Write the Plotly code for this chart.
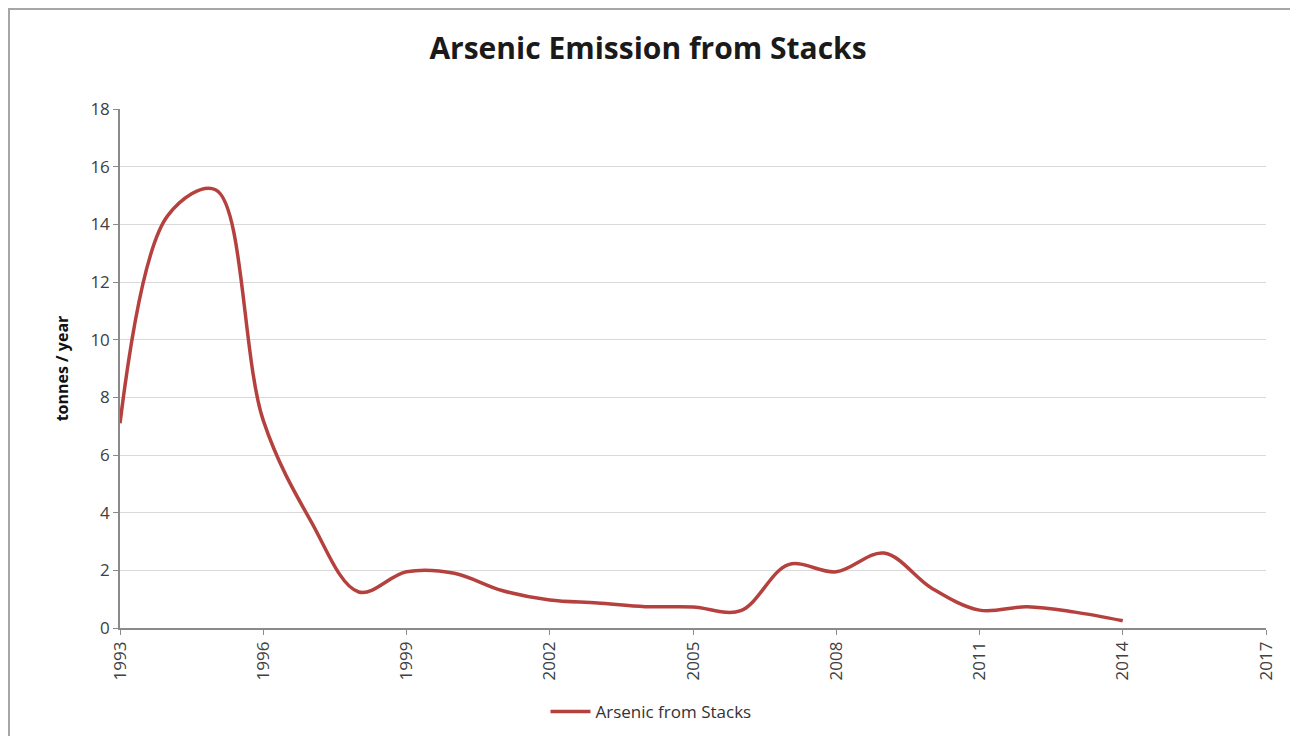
import plotly.graph_objects as go

years = list(range(1993, 2015))
arsenic = [7.1, 14.3, 15.2, 7.2, 3.7, 1.25, 1.95, 1.9, 1.3, 0.97, 0.87, 0.74,
           0.73, 0.6, 2.2, 1.95, 2.6, 1.38, 0.62, 0.74, 0.55, 0.25]
series_name = "Arsenic from Stacks"
title_text = "Arsenic Emission from Stacks"
y_title = "tonnes / year"
x_ticks = list(range(1993, 2018, 3))
y_ticks = list(range(0, 19, 2))

# page body has an 8px margin, so figure coords = page coords - 8
OFF = 8
W, H = 1298, 736
L, R, T, B = 120 - OFF, 40, 109 - OFF, 116
pw, ph = W - L - R, H - T - B

def px_x(p):
    return (p - OFF - L) / pw

def px_y(p):
    return (H - B - (p - OFF)) / ph

fig = go.Figure()
fig.add_trace(go.Scatter(
    x=years, y=arsenic, mode="lines", name=series_name,
    line=dict(color="#B5413E", width=3.5, shape="spline", smoothing=1.0),
))

fig.update_layout(
    width=W, height=H,
    margin=dict(l=L, r=R, t=T, b=B),
    paper_bgcolor="white", plot_bgcolor="white",
    title=dict(text="<b>" + title_text + "</b>", x=(648 - OFF) / W, xref="container", xanchor="center",
               y=1 - (48 - OFF) / H, yref="container", yanchor="middle",
               font=dict(family="Open Sans", size=30, color="#1a1a1a")),
    showlegend=True,
    legend=dict(orientation="h", x=(651 - OFF) / W, xanchor="center", xref="container",
                y=1 - (712 - OFF) / H, yref="container", yanchor="middle",
                font=dict(family="Open Sans", size=17, color="#333333"),
                itemwidth=40),
    font=dict(family="Open Sans", color="#404040"),
)

fig.update_xaxes(
    range=[1993, 2017], tickvals=x_ticks, ticktext=[str(v) for v in x_ticks],
    tickangle=-90, showgrid=False, zeroline=False,
    showline=True, linecolor="#8a8a8a", linewidth=1.5,
    ticks="outside", ticklen=5, tickcolor="#8a8a8a",
    tickfont=dict(family="Open Sans", size=17, color="#404040"),
)
fig.update_yaxes(
    range=[0, 18], tickvals=y_ticks, showgrid=True, gridcolor="#d9d9d9", gridwidth=1,
    zeroline=False, showline=True, linecolor="#8a8a8a", linewidth=1.5,
    ticks="outside", ticklen=5, tickcolor="#8a8a8a",
    tickfont=dict(family="Open Sans", size=17, color="#404040"),
    title=dict(text="<b>" + y_title + "</b>", standoff=18,
               font=dict(family="Open Sans", size=16, color="#111111")),
)

fig.add_shape(type="rect", xref="paper", yref="paper",
              x0=px_x(9), x1=px_x(1291), y0=px_y(H + 20), y1=px_y(9),
              line=dict(color="#a6a6a6", width=2), fillcolor="rgba(0,0,0,0)", layer="below")

fig.write_html("out.html")
